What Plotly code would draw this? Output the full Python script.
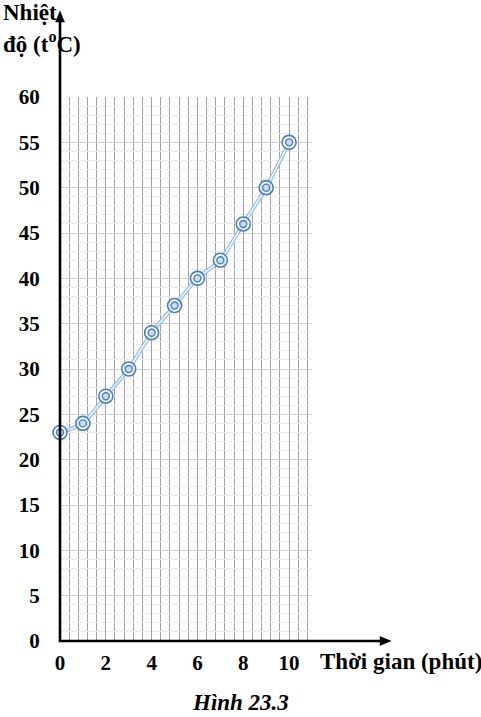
import plotly.graph_objects as go

# Data
time_min = [0, 1, 2, 3, 4, 5, 6, 7, 8, 9, 10]
temp_c = [23, 24, 27, 30, 34, 37, 40, 42, 46, 50, 55]
x_tick_vals = [0, 2, 4, 6, 8, 10]
y_tick_vals = [0, 5, 10, 15, 20, 25, 30, 35, 40, 45, 50, 55, 60]

W, H = 481, 717
FONT = "Liberation Serif"
BLUE = "#4a7ebb"
LIGHT = "#9fc2e8"

# plot area in pixels
px_l, px_r = 60, 312
py_t, py_b = 97, 641


def fx(p):
    return p / W


def fy(p):
    return (H - p) / H


fig = go.Figure()

# double line (smoothed)
fig.add_trace(go.Scatter(x=time_min, y=temp_c, mode="lines",
                         line=dict(color=LIGHT, width=4, shape="spline", smoothing=0.6),
                         hoverinfo="skip", cliponaxis=False))
fig.add_trace(go.Scatter(x=time_min, y=temp_c, mode="lines",
                         line=dict(color="white", width=1.2, shape="spline", smoothing=0.6),
                         hoverinfo="skip", cliponaxis=False))
# markers: outer ring + inner ring
fig.add_trace(go.Scatter(x=time_min, y=temp_c, mode="markers",
                         marker=dict(symbol="circle", size=14, color="rgba(255,255,255,0.6)",
                                     line=dict(color=BLUE, width=1.6)),
                         cliponaxis=False))
fig.add_trace(go.Scatter(x=time_min, y=temp_c, mode="markers",
                         marker=dict(symbol="circle", size=7, color="#c9dcf2",
                                     line=dict(color=BLUE, width=1.4)),
                         cliponaxis=False))

tickfont = dict(family=FONT, size=21, color="black", weight="bold")

fig.update_layout(
    width=W, height=H,
    margin=dict(l=0, r=0, t=0, b=0, autoexpand=False),
    paper_bgcolor="white", plot_bgcolor="white",
    showlegend=False,
    xaxis=dict(
        domain=[fx(px_l), fx(px_r)], range=[0, 11], automargin=False,
        tickvals=x_tick_vals, ticktext=[str(v) for v in x_tick_vals],
        showgrid=True, gridcolor="#a0a0a0", gridwidth=1,
        minor=dict(dtick=0.4, tick0=0, showgrid=True, gridcolor="#a0a0a0", gridwidth=1),
        ticks="outside", ticklen=3, tickcolor="rgba(0,0,0,0)",
        tickfont=tickfont, showline=False, zeroline=False, fixedrange=True,
    ),
    yaxis=dict(
        domain=[fy(py_b), fy(py_t)], range=[0, 60], automargin=False,
        tickvals=y_tick_vals, ticktext=[str(v) for v in y_tick_vals],
        showgrid=True, gridcolor="#cfcfcf", gridwidth=1,
        minor=dict(dtick=1, showgrid=True, gridcolor="#ececec", gridwidth=1),
        ticks="outside", ticklen=15, tickcolor="rgba(0,0,0,0)",
        tickfont=tickfont, showline=False, zeroline=False, fixedrange=True,
    ),
)

# axes lines + arrowheads as shapes
fig.add_shape(type="line", xref="paper", yref="paper",
              x0=fx(px_l), y0=fy(py_b + 1), x1=fx(px_l), y1=fy(20),
              line=dict(color="black", width=2.6), layer="above")
fig.add_shape(type="path", xref="paper", yref="paper",
              path=f"M {fx(px_l)} {fy(11)} L {fx(px_l - 4.5)} {fy(22)} L {fx(px_l + 4.5)} {fy(22)} Z",
              fillcolor="black", line=dict(color="black", width=0.5), layer="above")
fig.add_shape(type="line", xref="paper", yref="paper",
              x0=fx(px_l - 1), y0=fy(py_b), x1=fx(382), y1=fy(py_b),
              line=dict(color="black", width=2.6), layer="above")
fig.add_shape(type="path", xref="paper", yref="paper",
              path=f"M {fx(391)} {fy(py_b)} L {fx(380)} {fy(py_b - 4.5)} L {fx(380)} {fy(py_b + 4.5)} Z",
              fillcolor="black", line=dict(color="black", width=0.5), layer="above")

labfont = dict(family=FONT, size=23, color="black")
fig.add_annotation(xref="paper", yref="paper", x=fx(1), y=fy(13),
                   xanchor="left", yanchor="middle", showarrow=False,
                   text="<b>Nhiệt</b>", font=labfont)
fig.add_annotation(xref="paper", yref="paper", x=fx(1), y=fy(43),
                   xanchor="left", yanchor="middle", showarrow=False,
                   text="<b>độ (t<sup>o</sup>C)</b>", font=labfont)
fig.add_annotation(xref="paper", yref="paper", x=fx(318), y=fy(661),
                   xanchor="left", yanchor="middle", showarrow=False,
                   text="<b>Thời gian (phút)</b>", font=labfont)
fig.add_annotation(xref="paper", yref="paper", x=fx(240), y=fy(716),
                   xanchor="center", yanchor="bottom", showarrow=False, borderpad=0,
                   text="<b><i>Hình 23.3</i></b>", font=labfont)

fig.write_html("out.html",
               config={"displayModeBar": False},
               post_script="document.body.style.margin='0';document.body.style.padding='0';document.body.style.overflow='hidden';")
